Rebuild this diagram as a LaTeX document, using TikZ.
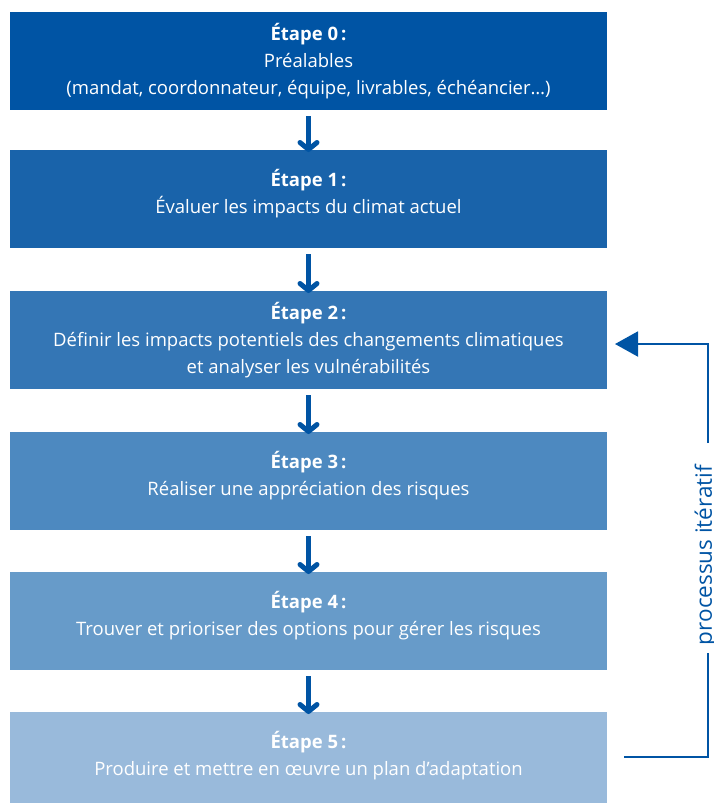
\documentclass[tikz,border=0pt]{standalone}
\usepackage{fontspec}
\setmainfont{Open Sans}
\usepackage{xcolor}
\usepackage{tikz}
\usetikzlibrary{positioning}
\usetikzlibrary{arrows.meta}
\definecolor{etape0}{RGB}{0,84,164}
\definecolor{etape1}{RGB}{25,99,170}
\definecolor{etape2}{RGB}{52,118,181}
\definecolor{etape3}{RGB}{77,137,192}
\definecolor{etape4}{RGB}{103,155,201}
\definecolor{etape5}{RGB}{153,186,219}

\begin{document}
\begin{tikzpicture}[x=1pt,y=-1pt,
	etape/.style={minimum width=597pt,minimum height=98pt,inner sep=0pt,outer sep=0pt},
	texte/.style={text=white,align=center,font=\fontsize{18.5}{27}\selectfont},
	fleche/.style={draw=etape0,line width=5pt,-{Straight Barb[length=7pt,width=17pt,round]}},
	boucle/.style={draw=etape0,line width=2pt}]
	\useasboundingbox (0,0) rectangle (713,803);
	\node[etape,fill=etape0] (e0) at (308.5,61) {};
	\node[etape,fill=etape1,below=40pt of e0] (e1) {};
	\node[etape,fill=etape2,below=43pt of e1] (e2) {};
	\node[etape,fill=etape3,below=43pt of e2] (e3) {};
	\node[etape,fill=etape4,below=42pt of e3] (e4) {};
	\node[etape,fill=etape5,below=42pt of e4] (e5) {};
	\node[texte] (t0) at (e0.center) {\textbf{Étape 0\,:}\\Préalables\\(mandat, coordonnateur, équipe, livrables, échéancier…)};
	\node[texte,yshift=5.5pt] (t1) at (e1.center) {\textbf{Étape 1\,:}\\Évaluer les impacts du climat actuel};
	\node[texte] (t2) at (e2.center) {\textbf{Étape 2\,:}\\Définir les impacts potentiels des changements climatiques\\et analyser les vulnérabilités};
	\node[texte,yshift=5.5pt] (t3) at (e3.center) {\textbf{Étape 3\,:}\\Réaliser une appréciation des risques};
	\node[texte,yshift=5.5pt] (t4) at (e4.center) {\textbf{Étape 4\,:}\\Trouver et prioriser des options pour gérer les risques};
	\node[texte,yshift=5.5pt] (t5) at (e5.center) {\textbf{Étape 5\,:}\\Produire et mettre en œuvre un plan d’adaptation};
	\foreach \a/\b in {e0/e1,e1/e2,e2/e3,e3/e4,e4/e5}
	\draw[fleche] ([yshift=-6pt]\a.south) -- ([yshift=-2pt]\b.north);
	% boucle de retour
	\coordinate (b0) at (624,757);
	\coordinate (b1) at (708,757);
	\coordinate (g1) at (708,653);
	\coordinate (g2) at (708,443);
	\coordinate (b2) at (708,344);
	\coordinate (b3) at (615,344);
	\draw[boucle] (b0) -- (b1) -- (g1);
	\draw[boucle,-{Triangle[length=23pt,width=25pt]}] (g2) -- (b2) -- (b3);
	\node[rotate=90,inner sep=0pt,text=etape0,font=\fontsize{22.5}{24}\selectfont] (it) at (706,555) {processus itératif};
\end{tikzpicture}
\end{document}
